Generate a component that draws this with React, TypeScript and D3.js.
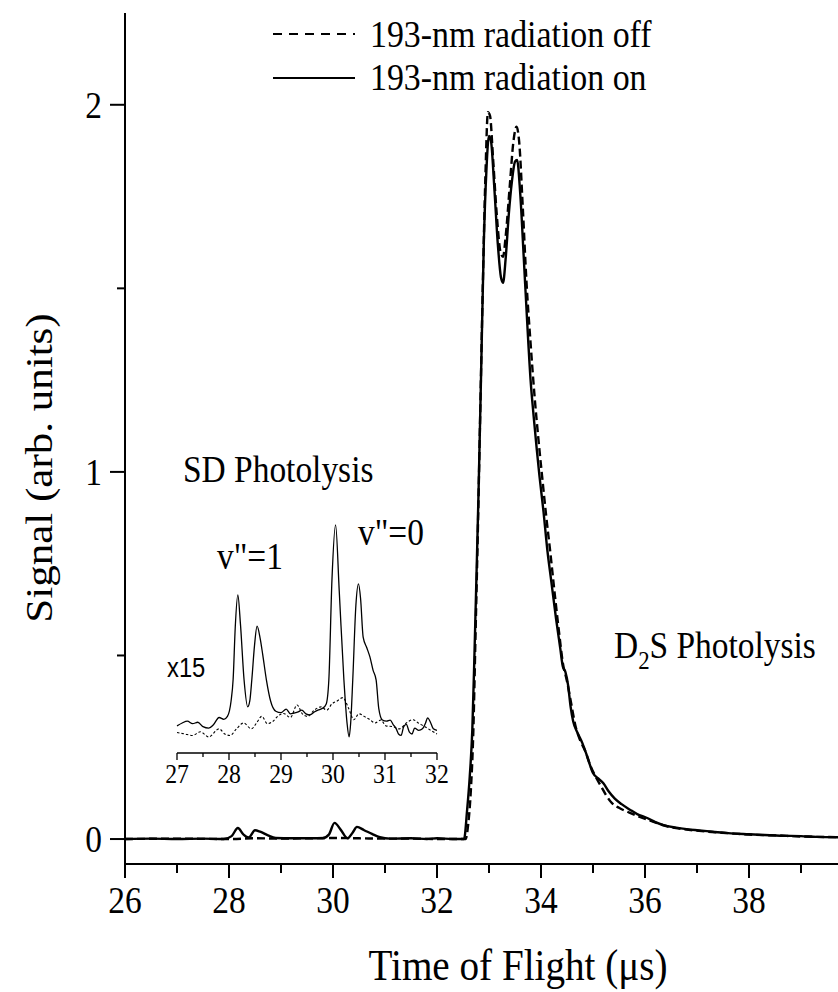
import React from "react";
import * as d3 from "d3";

// ---------- data ----------
const onTime = [26.0, 26.5, 27.0, 27.5, 27.9, 28.05, 28.17, 28.28, 28.38, 28.5, 28.6, 28.75, 28.9, 29.2, 29.5, 29.8, 29.92, 30.03, 30.15, 30.28, 30.38, 30.46, 30.6, 30.75, 30.9, 31.1, 31.5, 31.8, 32.0, 32.3, 32.52, 32.58, 32.63, 32.68, 32.72, 32.76, 32.8, 32.85, 32.9, 32.95, 33.0, 33.04, 33.1, 33.17, 33.23, 33.27, 33.32, 33.38, 33.44, 33.5, 33.54, 33.6, 33.67, 33.73, 33.8, 33.86, 33.92, 33.97, 34.05, 34.12, 34.2, 34.29, 34.37, 34.42, 34.47, 34.52, 34.57, 34.62, 34.7, 34.8, 34.9, 35.0, 35.1, 35.2, 35.3, 35.42, 35.55, 35.71, 35.85, 36.03, 36.2, 36.35, 36.6, 36.8, 37.0, 37.3, 37.6, 38.0, 38.3, 38.6, 39.0, 39.3, 39.75];
const onSignal = [0.0, 0.001, 0.0, 0.001, 0.0, 0.008, 0.03, 0.012, 0.004, 0.024, 0.02, 0.01, 0.003, 0.002, 0.002, 0.002, 0.012, 0.044, 0.025, 0.002, 0.018, 0.033, 0.024, 0.014, 0.005, 0.001, 0.002, 0.0, 0.002, 0.0, 0.0, 0.08, 0.17, 0.3, 0.5, 0.72, 0.95, 1.28, 1.62, 1.82, 1.915, 1.9, 1.78, 1.62, 1.53, 1.515, 1.58, 1.7, 1.79, 1.845, 1.85, 1.76, 1.58, 1.42, 1.25, 1.15, 1.06, 0.99, 0.89, 0.79, 0.7, 0.6, 0.52, 0.47, 0.455, 0.42, 0.36, 0.32, 0.29, 0.26, 0.22, 0.18, 0.165, 0.152, 0.13, 0.11, 0.095, 0.08, 0.068, 0.058, 0.046, 0.038, 0.031, 0.027, 0.024, 0.02, 0.016, 0.013, 0.011, 0.009, 0.008, 0.006, 0.005];

const offTime = [26.0, 27.0, 28.0, 28.5, 29.0, 29.5, 30.0, 30.5, 31.0, 31.5, 32.0, 32.55, 32.6, 32.65, 32.7, 32.74, 32.78, 32.83, 32.88, 32.93, 32.98, 33.02, 33.08, 33.15, 33.22, 33.27, 33.32, 33.4, 33.47, 33.53, 33.58, 33.65, 33.72, 33.8, 33.88, 33.95, 34.02, 34.1, 34.18, 34.27, 34.35, 34.42, 34.5, 34.58, 34.66, 34.75, 34.85, 34.95, 35.05, 35.15, 35.25, 35.35, 35.5, 35.7, 35.9, 36.1, 36.3, 36.5, 36.8, 37.2, 37.6, 38.0, 38.5, 39.0, 39.75];
const offSignal = [0.0, 0.001, 0.0, 0.002, 0.001, 0.002, 0.003, 0.002, 0.001, 0.001, 0.0, 0.0, 0.04, 0.13, 0.3, 0.55, 0.8, 1.15, 1.5, 1.8, 1.98, 1.97, 1.85, 1.7, 1.6, 1.586, 1.64, 1.78, 1.9, 1.94, 1.9, 1.72, 1.52, 1.35, 1.2, 1.09, 0.99, 0.88, 0.78, 0.66, 0.56, 0.48, 0.43, 0.37, 0.31, 0.27, 0.24, 0.2, 0.17, 0.145, 0.12, 0.1, 0.085, 0.072, 0.06, 0.05, 0.04, 0.032, 0.026, 0.02, 0.016, 0.012, 0.01, 0.007, 0.005];

// inset (x15 magnified)
const insetOnTime = [27.0, 27.1, 27.2, 27.3, 27.4, 27.5, 27.61, 27.7, 27.81, 27.9, 27.97, 28.04, 28.08, 28.12, 28.17, 28.22, 28.29, 28.36, 28.4, 28.44, 28.49, 28.54, 28.6, 28.65, 28.72, 28.8, 28.9, 29.0, 29.1, 29.18, 29.25, 29.33, 29.4, 29.48, 29.56, 29.64, 29.71, 29.8, 29.87, 29.92, 29.98, 30.05, 30.12, 30.21, 30.27, 30.31, 30.34, 30.38, 30.44, 30.49, 30.53, 30.58, 30.65, 30.71, 30.77, 30.83, 30.88, 30.95, 31.03, 31.1, 31.16, 31.21, 31.26, 31.31, 31.36, 31.41, 31.47, 31.52, 31.57, 31.65, 31.72, 31.78, 31.82, 31.88, 31.93, 32.0];
const insetOnSignal = [0.052, 0.06, 0.065, 0.058, 0.062, 0.05, 0.046, 0.055, 0.075, 0.07, 0.078, 0.12, 0.18, 0.32, 0.409, 0.33, 0.177, 0.104, 0.12, 0.18, 0.27, 0.324, 0.29, 0.245, 0.177, 0.12, 0.092, 0.088, 0.098, 0.085, 0.087, 0.09, 0.095, 0.085, 0.082, 0.09, 0.095, 0.1, 0.112, 0.177, 0.45, 0.6, 0.42, 0.177, 0.06, 0.022, 0.06, 0.177, 0.38, 0.439, 0.4, 0.294, 0.265, 0.24, 0.204, 0.177, 0.1, 0.068, 0.065, 0.068, 0.055, 0.046, 0.03, 0.026, 0.05, 0.056, 0.035, 0.03, 0.046, 0.04, 0.044, 0.06, 0.074, 0.06, 0.044, 0.04];

const insetOffTime = [27.0, 27.15, 27.3, 27.45, 27.61, 27.81, 27.92, 28.02, 28.15, 28.28, 28.43, 28.53, 28.63, 28.74, 28.84, 28.95, 29.05, 29.18, 29.31, 29.41, 29.51, 29.64, 29.77, 29.88, 29.98, 30.08, 30.19, 30.3, 30.4, 30.5, 30.6, 30.7, 30.81, 30.92, 31.02, 31.15, 31.28, 31.41, 31.54, 31.64, 31.74, 31.88, 32.0];
const insetOffSignal = [0.034, 0.03, 0.026, 0.036, 0.022, 0.044, 0.03, 0.026, 0.045, 0.06, 0.044, 0.06, 0.078, 0.058, 0.064, 0.08, 0.086, 0.075, 0.109, 0.085, 0.078, 0.095, 0.104, 0.095, 0.112, 0.12, 0.129, 0.1, 0.069, 0.085, 0.078, 0.07, 0.06, 0.068, 0.052, 0.05, 0.044, 0.06, 0.069, 0.06, 0.052, 0.04, 0.03];

const xMajorTicks = [26, 28, 30, 32, 34, 36, 38];
const xMinorTicks = [27, 29, 31, 33, 35, 37, 39];
const yMajorTicks = [0, 1, 2];
const yMinorTicks = [0.5, 1.5];
const insetTicks = [27, 28, 29, 30, 31, 32];
const insetMinorTicks = [27.5, 28.5, 29.5, 30.5, 31.5];

const legendLabels = ["193-nm radiation off", "193-nm radiation on"];

// ---------- layout ----------
const W = 838;
const H = 992;
const SERIF = "'Liberation Serif', 'Times New Roman', serif";
const SANS = "'Liberation Sans', Arial, sans-serif";
const SX = 0.88; // horizontal text compression of the original

const x = d3.scaleLinear().domain([26, 39.712]).range([125, 838]);
const y = d3.scaleLinear().domain([-0.068, 2.25]).range([864, 13]);
const yIn = d3.scaleLinear().domain([0, 1]).range([745, 378]);

const Txt = ({ x: tx, y: ty, size, anchor = "start", family = SERIF, children, rotate = 0 }: any) => (
  <text
    transform={`translate(${tx},${ty}) scale(${SX},1)${rotate ? ` rotate(${rotate})` : ""}`}
    fontFamily={family}
    fontSize={size}
    textAnchor={anchor}
    fill="#000"
  >
    {children}
  </text>
);

export default function App() {
  const line = d3
    .line<[number, number]>()
    .x((d) => x(d[0]))
    .y((d) => y(d[1]))
    .curve(d3.curveMonotoneX);
  const lineIn = d3
    .line<[number, number]>()
    .x((d) => x(d[0]))
    .y((d) => yIn(d[1]))
    .curve(d3.curveMonotoneX);

  const onPts = onTime.map((t, i) => [t, onSignal[i]] as [number, number]);
  const offPts = offTime.map((t, i) => [t, offSignal[i]] as [number, number]);
  const inOnPts = insetOnTime.map((t, i) => [t, insetOnSignal[i]] as [number, number]);
  const inOffPts = insetOffTime.map((t, i) => [t, insetOffSignal[i]] as [number, number]);

  const axisY = 864;
  const insetAxisY = 753;

  return (
    <svg width={W} height={H} style={{ position: "absolute", left: 0, top: 0, background: "#fff" }}>
      <defs>
        <clipPath id="plot">
          <rect x={125} y={0} width={W - 125} height={axisY} />
        </clipPath>
      </defs>

      {/* main curves */}
      <g clipPath="url(#plot)" fill="none" stroke="#000">
        <path d={line(offPts) || ""} strokeWidth={2.4} strokeDasharray="8,4" />
        <path d={line(onPts) || ""} strokeWidth={2.4} />
      </g>

      {/* axes */}
      <g stroke="#000" strokeWidth={2}>
        <line x1={125} x2={125} y1={13} y2={axisY} />
        <line x1={125} x2={W} y1={axisY} y2={axisY} />
        {yMajorTicks.map((t) => (
          <line key={"ym" + t} x1={110} x2={125} y1={y(t)} y2={y(t)} />
        ))}
        {yMinorTicks.map((t) => (
          <line key={"yn" + t} x1={117} x2={125} y1={y(t)} y2={y(t)} />
        ))}
        {xMajorTicks.map((t) => (
          <line key={"xm" + t} x1={x(t)} x2={x(t)} y1={axisY} y2={axisY + 14} />
        ))}
        {xMinorTicks.map((t) => (
          <line key={"xn" + t} x1={x(t)} x2={x(t)} y1={axisY} y2={axisY + 9} />
        ))}
      </g>
      {yMajorTicks.map((t) => (
        <Txt key={"yl" + t} x={102} y={y(t) + 13} size={38} anchor="end">
          {t}
        </Txt>
      ))}
      {xMajorTicks.map((t) => (
        <Txt key={"xl" + t} x={x(t)} y={913} size={38} anchor="middle">
          {t}
        </Txt>
      ))}
      <Txt x={518} y={980} size={44.5} anchor="middle">
        Time of Flight (μs)
      </Txt>
      <Txt x={52} y={468} size={43} anchor="middle" rotate={-90}>
        Signal (arb. units)
      </Txt>

      {/* legend */}
      <g stroke="#000" strokeWidth={2}>
        <line x1={273} x2={355} y1={34} y2={34} strokeDasharray="9,7" />
        <line x1={273} x2={355} y1={78} y2={78} />
      </g>
      <Txt x={370} y={47} size={38.5}>{legendLabels[0]}</Txt>
      <Txt x={370} y={90} size={38.5}>{legendLabels[1]}</Txt>

      {/* inset */}
      <g fill="none" stroke="#000">
        <path d={lineIn(inOffPts) || ""} strokeWidth={1.1} strokeDasharray="2.5,2" />
        <path d={lineIn(inOnPts) || ""} strokeWidth={1.3} />
      </g>
      <g stroke="#000" strokeWidth={1.3}>
        <line x1={x(27)} x2={x(32)} y1={insetAxisY} y2={insetAxisY} />
        {insetTicks.map((t) => (
          <line key={"it" + t} x1={x(t)} x2={x(t)} y1={insetAxisY} y2={insetAxisY + 7} />
        ))}
        {insetMinorTicks.map((t) => (
          <line key={"in" + t} x1={x(t)} x2={x(t)} y1={insetAxisY} y2={insetAxisY + 4} />
        ))}
      </g>
      {insetTicks.map((t) => (
        <Txt key={"il" + t} x={x(t)} y={783} size={27} anchor="middle">
          {t}
        </Txt>
      ))}

      {/* annotations */}
      <Txt x={183} y={482} size={38}>SD Photolysis</Txt>
      <Txt x={217} y={569} size={38}>{'v"=1'}</Txt>
      <Txt x={358} y={545} size={38}>{'v"=0'}</Txt>
      <Txt x={167} y={677} size={27} family={SANS}>x15</Txt>
      <text transform={`translate(614,658) scale(${SX},1)`} fontFamily={SERIF} fontSize={38} fill="#000">
        D<tspan fontSize={26} dy={11}>2</tspan>
        <tspan dy={-11}>S Photolysis</tspan>
      </text>
    </svg>
  );
}
